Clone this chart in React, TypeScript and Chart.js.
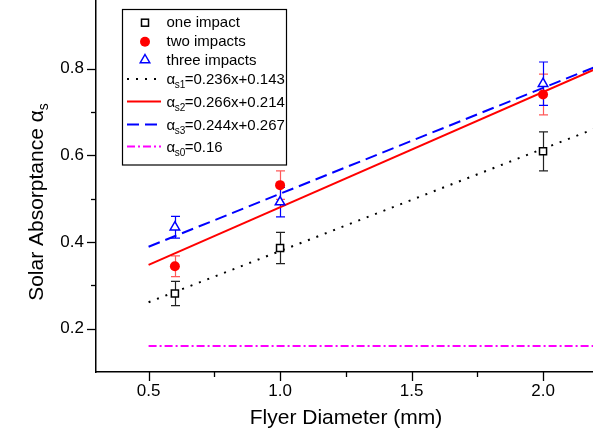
import React, { useEffect, useRef } from "react";
import { Chart, registerables } from "chart.js";

Chart.register(...registerables);

// ---- data ----
const flyerDiameters = [0.6, 1.0, 2.0];
const oneImpact = [0.281, 0.386, 0.609];
const oneImpactErr = [0.028, 0.036, 0.045];
const twoImpacts = [0.344, 0.531, 0.74];
const twoImpactsErr = [0.024, 0.033, 0.047];
const threeImpacts = [0.434, 0.492, 0.765];
const threeImpactsErr = [0.025, 0.034, 0.05];

const fitX = [0.5, 2.2];
const fitS1 = [0.261, 0.662]; // 0.236x+0.143
const fitS2 = [0.347, 0.799]; // 0.266x+0.214
const fitS3 = [0.389, 0.804]; // 0.244x+0.267
const fitS0 = [0.16, 0.16]; // 0.16

const xMajorTicks = [0.5, 1.0, 1.5, 2.0];
const xMinorTicks = [0.75, 1.25, 1.75];
const yMajorTicks = [0.2, 0.4, 0.6, 0.8];
const yMinorTicks = [0.3, 0.5, 0.7];

const seriesNames = ["one impact", "two impacts", "three impacts"];
const fitSubscripts = ["s1", "s2", "s3", "s0"];
const fitEquations = ["=0.236x+0.143", "=0.266x+0.214", "=0.244x+0.267", "=0.16"];

const xTitle = "Flyer Diameter (mm)";
const yTitle = "Solar Absorptance \u03b1";
const yTitleSub = "s";

const FONT = "'Liberation Sans', Arial, sans-serif";

const pts = (xs: number[], ys: number[]) => xs.map((x, i) => ({ x, y: ys[i] }));

const BLACK = "#000000";
const RED = "#ff0000";
const BLUE = "#0000ff";
const MAGENTA = "#ff00ff";

const DOT = [2, 7];
const DASH = [12, 6];
const DASHDOT = [8, 3, 2, 3];

function drawMarker(ctx: CanvasRenderingContext2D, kind: number, x: number, y: number) {
  ctx.save();
  ctx.setLineDash([]);
  if (kind === 0) {
    ctx.strokeStyle = BLACK;
    ctx.lineWidth = 1.5;
    ctx.fillStyle = "#fff";
    ctx.fillRect(x - 3.5, y - 3.5, 7, 7);
    ctx.strokeRect(x - 3.5, y - 3.5, 7, 7);
  } else if (kind === 1) {
    ctx.fillStyle = RED;
    ctx.beginPath();
    ctx.arc(x, y, 5, 0, Math.PI * 2);
    ctx.fill();
  } else {
    const r = 5.5;
    ctx.strokeStyle = BLUE;
    ctx.lineWidth = 1.5;
    ctx.fillStyle = "#fff";
    ctx.beginPath();
    ctx.moveTo(x, y - r);
    ctx.lineTo(x + r * 0.866, y + r * 0.5);
    ctx.lineTo(x - r * 0.866, y + r * 0.5);
    ctx.closePath();
    ctx.fill();
    ctx.stroke();
  }
  ctx.restore();
}

const overlayPlugin = {
  id: "overlay",
  beforeDatasetsDraw(chart: any) {
    const ctx: CanvasRenderingContext2D = chart.ctx;
    const xs = chart.scales.x;
    const ys = chart.scales.y;
    const groups = [
      { v: oneImpact, e: oneImpactErr, c: "#222222" },
      { v: twoImpacts, e: twoImpactsErr, c: "rgba(255,60,60,0.85)" },
      { v: threeImpacts, e: threeImpactsErr, c: BLUE },
    ];
    ctx.save();
    ctx.lineWidth = 1.2;
    groups.forEach((g) => {
      ctx.strokeStyle = g.c;
      flyerDiameters.forEach((d, i) => {
        const px = Math.round(xs.getPixelForValue(d)) + 0.5;
        const top = ys.getPixelForValue(g.v[i] + g.e[i]);
        const bot = ys.getPixelForValue(g.v[i] - g.e[i]);
        ctx.beginPath();
        ctx.moveTo(px, top);
        ctx.lineTo(px, bot);
        ctx.moveTo(px - 4.5, top);
        ctx.lineTo(px + 4.5, top);
        ctx.moveTo(px - 4.5, bot);
        ctx.lineTo(px + 4.5, bot);
        ctx.stroke();
      });
    });
    ctx.restore();
  },
  afterDraw(chart: any) {
    const ctx: CanvasRenderingContext2D = chart.ctx;
    const xs = chart.scales.x;
    const ys = chart.scales.y;
    const area = chart.chartArea;
    ctx.save();
    // tick marks
    ctx.strokeStyle = BLACK;
    ctx.lineWidth = 1.3;
    ctx.setLineDash([]);
    const drawY = (v: number, len: number) => {
      const py = Math.round(ys.getPixelForValue(v)) + 0.5;
      ctx.beginPath();
      ctx.moveTo(area.left, py);
      ctx.lineTo(area.left - len, py);
      ctx.stroke();
    };
    const drawX = (v: number, len: number) => {
      const px = Math.round(xs.getPixelForValue(v)) + 0.5;
      ctx.beginPath();
      ctx.moveTo(px, area.bottom);
      ctx.lineTo(px, area.bottom + len);
      ctx.stroke();
    };
    yMajorTicks.forEach((v) => drawY(v, 9));
    yMinorTicks.forEach((v) => drawY(v, 5));
    xMajorTicks.forEach((v) => drawX(v, 9));
    xMinorTicks.forEach((v) => drawX(v, 5));

    // axis titles
    ctx.fillStyle = BLACK;
    ctx.textBaseline = "alphabetic";
    ctx.font = `21px ${FONT}`;
    ctx.textAlign = "center";
    ctx.fillText(xTitle, 346, 424);

    ctx.save();
    ctx.translate(43, 202);
    ctx.rotate(-Math.PI / 2);
    ctx.font = `21px ${FONT}`;
    const w1 = ctx.measureText(yTitle).width;
    ctx.font = `14px ${FONT}`;
    const w2 = ctx.measureText(yTitleSub).width;
    const total = w1 + w2;
    ctx.textAlign = "left";
    ctx.font = `21px ${FONT}`;
    ctx.fillText(yTitle, -total / 2, 0);
    ctx.font = `14px ${FONT}`;
    ctx.fillText(yTitleSub, -total / 2 + w1, 5);
    ctx.restore();

    // legend
    ctx.strokeStyle = BLACK;
    ctx.lineWidth = 1.2;
    ctx.strokeRect(122.5, 9.5, 164, 155.5);
    const textX = 166.5;
    const markerX = 145;
    const rowY = [22.7, 41.7, 60];
    ctx.textAlign = "left";
    ctx.textBaseline = "middle";
    ctx.font = `15px ${FONT}`;
    seriesNames.forEach((name, i) => {
      drawMarker(ctx, i, markerX, rowY[i]);
      ctx.fillStyle = BLACK;
      ctx.font = `15px ${FONT}`;
      ctx.fillText(name, textX, rowY[i] + 0.5);
    });
    const lineRows = [79, 101.5, 124.5, 146.5];
    const lineStyles = [
      { c: BLACK, d: DOT },
      { c: RED, d: [] },
      { c: BLUE, d: DASH },
      { c: MAGENTA, d: DASHDOT },
    ];
    lineRows.forEach((y, i) => {
      ctx.save();
      ctx.strokeStyle = lineStyles[i].c;
      ctx.lineWidth = 2;
      ctx.setLineDash(lineStyles[i].d);
      ctx.beginPath();
      ctx.moveTo(127, y);
      ctx.lineTo(161, y);
      ctx.stroke();
      ctx.restore();
      ctx.fillStyle = BLACK;
      ctx.textBaseline = "alphabetic";
      ctx.font = `15px ${FONT}`;
      const base = y + 5;
      ctx.fillText("\u03b1", textX, base);
      let x = textX + ctx.measureText("\u03b1").width;
      ctx.font = `10px ${FONT}`;
      ctx.fillText(fitSubscripts[i], x - 0.5, base + 4);
      x += ctx.measureText(fitSubscripts[i]).width - 1;
      ctx.font = `15px ${FONT}`;
      ctx.fillText(fitEquations[i], x, base);
    });
    ctx.restore();
  },
};

const zeroPad = (s: any) => {
  s.paddingTop = 0;
  s.paddingBottom = 0;
  s.paddingLeft = 0;
  s.paddingRight = 0;
};

export default function App() {
  const ref = useRef<HTMLCanvasElement | null>(null);
  useEffect(() => {
    if (!ref.current) return;
    const chart = new Chart(ref.current, {
      type: "scatter",
      data: {
        datasets: [
          {
            label: seriesNames[1],
            data: pts(flyerDiameters, twoImpacts),
            pointStyle: "circle",
            pointRadius: 5,
            backgroundColor: RED,
            borderColor: RED,
            borderWidth: 0,
            showLine: false,
          },
          {
            label: seriesNames[2],
            data: pts(flyerDiameters, threeImpacts),
            pointStyle: "triangle",
            pointRadius: 5.5,
            backgroundColor: "#ffffff",
            borderColor: BLUE,
            borderWidth: 1.5,
            showLine: false,
          },
          {
            label: seriesNames[0],
            data: pts(flyerDiameters, oneImpact),
            pointStyle: "rect",
            pointRadius: 5,
            backgroundColor: "#ffffff",
            borderColor: BLACK,
            borderWidth: 1.5,
            showLine: false,
          },
          {
            label: "s2",
            data: pts(fitX, fitS2),
            showLine: true,
            pointRadius: 0,
            borderColor: RED,
            borderWidth: 2,
          },
          {
            label: "s3",
            data: pts(fitX, fitS3),
            showLine: true,
            pointRadius: 0,
            borderColor: BLUE,
            borderWidth: 2,
            borderDash: DASH,
          },
          {
            label: "s1",
            data: pts(fitX, fitS1),
            showLine: true,
            pointRadius: 0,
            borderColor: BLACK,
            borderWidth: 2,
            borderDash: DOT,
          },
          {
            label: "s0",
            data: pts(fitX, fitS0),
            showLine: true,
            pointRadius: 0,
            borderColor: MAGENTA,
            borderWidth: 2,
            borderDash: DASHDOT,
          },
        ],
      },
      options: {
        animation: false,
        responsive: false,
        devicePixelRatio: 1,
        layout: { padding: { left: 0, right: 0, top: 0, bottom: 0 }, autoPadding: false },
        plugins: {
          legend: { display: false },
          tooltip: { enabled: false },
        },
        scales: {
          x: {
            type: "linear",
            min: 0.3,
            max: 2.19,
            grid: { display: false, drawTicks: false },
            border: { display: true, color: BLACK, width: 1.5 },
            ticks: {
              color: BLACK,
              font: { family: FONT, size: 17 },
              padding: 9,
              maxRotation: 0,
              callback: (v: any) => Number(v).toFixed(1),
            },
            afterBuildTicks: (s: any) => {
              s.ticks = xMajorTicks.map((value) => ({ value }));
            },
            afterFit: (s: any) => {
              s.height = 61;
              zeroPad(s);
            },
          },
          y: {
            type: "linear",
            min: 0.1,
            max: 0.958,
            grid: { display: false, drawTicks: false },
            border: { display: true, color: BLACK, width: 1.5 },
            ticks: {
              color: BLACK,
              font: { family: FONT, size: 17 },
              padding: 12,
              callback: (v: any) => Number(v).toFixed(1),
            },
            afterBuildTicks: (s: any) => {
              s.ticks = yMajorTicks.map((value) => ({ value }));
            },
            afterFit: (s: any) => {
              s.width = 96;
              zeroPad(s);
            },
          },
        },
      },
      plugins: [overlayPlugin],
    } as any);
    return () => chart.destroy();
  }, []);
  return (
    <div style={{ position: "fixed", left: 0, top: 0, width: 593, height: 433, background: "#fff" }}>
      <canvas ref={ref} width={593} height={433} style={{ display: "block" }} />
    </div>
  );
}
